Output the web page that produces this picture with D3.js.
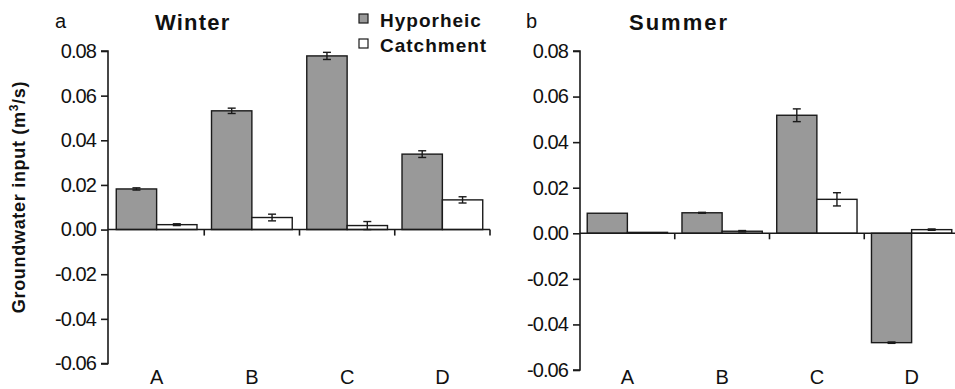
<!DOCTYPE html>
<html>
<head>
<meta charset="utf-8">
<script src="https://cdn.jsdelivr.net/npm/d3@7/dist/d3.min.js"></script>
<style>
  html, body { margin: 0; padding: 0; background: #fff; }
  svg { display: block; font-family: "Liberation Sans", Arial, sans-serif; }
</style>
</head>
<body>
<svg id="chart" width="955" height="389"></svg>
<script>
// ---- data ----
const categories = ["A", "B", "C", "D"];
const seriesNames = ["Hyporheic", "Catchment"];
const winterHyporheic    = [0.0182, 0.0532, 0.0778, 0.0338];
const winterHyporheicErr = [0.0005, 0.0012, 0.0016, 0.0015];
const winterCatchment    = [0.0022, 0.0054, 0.0018, 0.0133];
const winterCatchmentErr = [0.0004, 0.0015, 0.0018, 0.0014];
const summerHyporheic    = [0.0088, 0.0090, 0.0518, -0.0480];
const summerHyporheicErr = [0.0000, 0.0002, 0.0028, 0.0003];
const summerCatchment    = [0.0004, 0.0009, 0.0149, 0.0016];
const summerCatchmentErr = [0.0000, 0.0003, 0.0029, 0.0003];
const yTicks = [-0.06, -0.04, -0.02, 0.00, 0.02, 0.04, 0.06, 0.08];
const yLabel = "Groundwater input (m";
const panelLetters = ["a", "b"];
const panelTitles = ["Winter", "Summer"];

// ---- style ----
const fills = { Hyporheic: "#999999", Catchment: "#ffffff" };
const ink = "#1a1a1a";

const svg = d3.select("#chart");

function buildRows(hyp, hypErr, cat, catErr) {
  return categories.map((c, i) => ({
    cat: c,
    vals: [
      { s: "Hyporheic", v: hyp[i], e: hypErr[i] },
      { s: "Catchment", v: cat[i], e: catErr[i] }
    ]
  }));
}

const panels = [
  { rows: buildRows(winterHyporheic, winterHyporheicErr, winterCatchment, winterCatchmentErr),
    xr: [109, 490], yr: [363.5, 51], axisX: 108, letter: panelLetters[0], title: panelTitles[0],
    letterX: 55, titleX: 155, titleLS: 1.2 },
  { rows: buildRows(summerHyporheic, summerHyporheicErr, summerCatchment, summerCatchmentErr),
    xr: [580, 959], yr: [370, 51], axisX: 580, letter: panelLetters[1], title: panelTitles[1],
    letterX: 526, titleX: 629, titleLS: 2 }
];

panels.forEach(p => {
  const g = svg.append("g");
  const x0 = d3.scaleBand().domain(categories).range(p.xr).paddingInner(0).paddingOuter(0);
  const x1 = d3.scaleBand().domain(seriesNames).range([0, x0.bandwidth()]).paddingInner(0).paddingOuter(0.18);
  const y = d3.scaleLinear().domain([-0.06, 0.08]).range(p.yr);

  // y axis
  const yAxis = d3.axisLeft(y).tickValues(yTicks).tickFormat(d => d.toFixed(2)).tickSize(7).tickPadding(5);
  const ya = g.append("g").attr("transform", `translate(${p.axisX},0)`).call(yAxis);
  ya.attr("font-size", null).attr("font-family", null);
  ya.select(".domain").attr("stroke", ink).attr("stroke-width", 1.6).attr("d", `M-7,${y(0.08)}H0V${y(-0.06)}H-7`);
  ya.selectAll(".tick line").attr("stroke", ink).attr("stroke-width", 1.6);
  ya.selectAll(".tick text").style("font-size", "20px").attr("letter-spacing", -0.9).attr("fill", "#111")
    .style("font-family", "'Liberation Sans', Arial, sans-serif");

  // bars
  const groups = g.selectAll(".grp").data(p.rows).join("g")
    .attr("transform", d => `translate(${x0(d.cat)},0)`);
  groups.selectAll("rect").data(d => d.vals).join("rect")
    .attr("x", d => x1(d.s))
    .attr("width", x1.bandwidth())
    .attr("y", d => y(Math.max(0, d.v)))
    .attr("height", d => Math.abs(y(d.v) - y(0)))
    .attr("fill", d => fills[d.s])
    .attr("stroke", ink).attr("stroke-width", 1.4);

  // error bars
  const eb = groups.selectAll(".eb").data(d => d.vals.filter(v => v.e > 0)).join("g");
  eb.append("line")
    .attr("x1", d => x1(d.s) + x1.bandwidth() / 2).attr("x2", d => x1(d.s) + x1.bandwidth() / 2)
    .attr("y1", d => y(d.v + d.e)).attr("y2", d => y(d.v - d.e))
    .attr("stroke", ink).attr("stroke-width", 1.4);
  eb.selectAll(".cap").data(d => [{ d, k: 1 }, { d, k: -1 }]).join("line")
    .attr("x1", o => x1(o.d.s) + x1.bandwidth() / 2 - 4).attr("x2", o => x1(o.d.s) + x1.bandwidth() / 2 + 4)
    .attr("y1", o => y(o.d.v + o.k * o.d.e)).attr("y2", o => y(o.d.v + o.k * o.d.e))
    .attr("stroke", ink).attr("stroke-width", 1.4);

  // x axis at zero
  g.append("line").attr("x1", p.axisX).attr("x2", p.xr[1]).attr("y1", y(0)).attr("y2", y(0))
    .attr("stroke", ink).attr("stroke-width", 1.6);
  g.selectAll(".xt").data(categories).join("line")
    .attr("x1", d => x0(d) + x0.bandwidth()).attr("x2", d => x0(d) + x0.bandwidth())
    .attr("y1", y(0)).attr("y2", y(0) + 6)
    .attr("stroke", ink).attr("stroke-width", 1.6);

  // category labels at bottom
  g.selectAll(".xl").data(categories).join("text")
    .attr("x", d => x0(d) + x0.bandwidth() / 2)
    .attr("y", 384)
    .attr("text-anchor", "middle").style("font-size", "20px").attr("fill", "#111")
    .text(d => d);

  // panel letter & title
  g.append("text").attr("x", p.letterX).attr("y", 28).style("font-size", "20px").attr("fill", "#111").text(p.letter);
  g.append("text").attr("x", p.titleX).attr("y", 30).style("font-size", "22px").attr("font-weight", "bold")
    .attr("letter-spacing", p.titleLS).attr("fill", "#111").text(p.title);
});

// y label
const yl = svg.append("text")
  .attr("transform", "translate(25,197) rotate(-90)")
  .attr("text-anchor", "middle").style("font-size", "18px").attr("font-weight", "bold")
  .attr("letter-spacing", 0.7).attr("fill", "#111");
yl.append("tspan").text(yLabel);
yl.append("tspan").style("font-size", "12px").attr("dy", -7).text("3");
yl.append("tspan").attr("dy", 7).text("/s)");

// legend
const leg = svg.append("g");
seriesNames.forEach((s, i) => {
  leg.append("rect").attr("x", 359).attr("y", 14 + i * 25).attr("width", 9).attr("height", 9)
    .attr("fill", fills[s]).attr("stroke", ink).attr("stroke-width", 1.2);
  leg.append("text").attr("x", 380).attr("y", 27 + i * 25).style("font-size", "19px").attr("font-weight", "bold")
    .attr("letter-spacing", 1).attr("fill", "#111").text(s);
});
</script>
</body>
</html>
